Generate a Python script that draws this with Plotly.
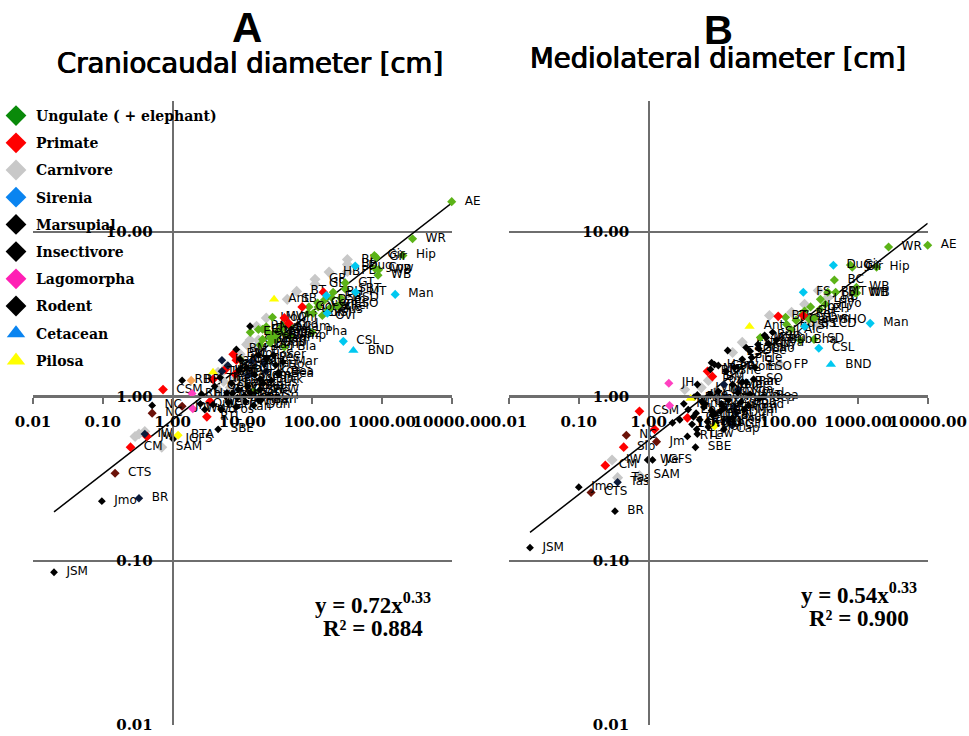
import plotly.graph_objects as go

W, H = 969, 736
# ---------- Panel A: craniocaudal ----------
a_ung_x = [10000, 2750, 2000, 780, 830, 880, 800, 900, 298, 298, 200, 190, 258, 258, 90, 122, 104, 27, 88, 19.5, 23, 28.5, 34.8, 41, 48.5, 38, 25, 29.5, 19.5, 48.5, 100, 40, 9.3, 14.7]
a_ung_y = [15.3, 9.1, 7.2, 7.2, 7.0, 5.45, 6.0, 5.9, 4.9, 4.5, 4.3, 4.0, 3.95, 3.63, 3.5, 3.5, 3.2, 3.03, 3.2, 2.56, 2.48, 2.42, 2.52, 2.38, 2.32, 2.7, 2.28, 2.22, 2.22, 2.63, 2.45, 2.0, 1.68, 1.07]
a_ung_l = ["AE", "WR", "Hip", "Gir", "Gir", "WB", "Cow", "WB", "GT", "SBT", "BH", "EH", "BSD", "ESO", "Oryx", "Ibx", "Elk", "MW", "Hor", "Eq", "Cal", "Tap", "Sai", "Gaz", "Imp", "Kud", "Ram", "Pig", "Dee", "Cam", "Pha", "Bla", "Goa", "She"]
a_ung2_x = [13, 17, 22, 30, 36, 25, 18, 120, 150, 180, 230, 140, 170]
a_ung2_y = [2.45, 2.55, 2.65, 2.35, 2.6, 2.12, 2.05, 3.7, 3.85, 3.45, 3.55, 3.1, 3.35]
a_ung2_l = ["Ele", "Cho", "Nya", "Rup", "Sik", "Bub", "Lam", "Cer", "Dam", "Alc", "Rei", "Ovi", "Sus"]

a_pri_x = [0.73, 0.25, 0.43, 7.4, 8.2, 3.8, 3.45, 3.1, 5.7, 7.9, 40, 72, 145, 46]
a_pri_y = [1.1, 0.49, 0.57, 1.8, 1.66, 1.27, 0.93, 0.75, 1.46, 1.36, 3.0, 3.5, 4.3, 2.78]
a_pri_l = ["CSM", "CM", "Jw", "BM", "Mac", "Tha", "We", "RTL", "Bab", "Ga", "Chi", "Gor", "", ""]

a_car_x = [320, 320, 320, 175, 110, 110, 60, 44, 22, 16, 12.9, 17, 9.3, 5.3, 4.5, 6, 11.5, 15.8, 0.33, 0.4, 0.7, 0.29, 4.5, 5.4, 6.7, 8.1, 10]
a_car_y = [6.8, 6.35, 5.75, 5.7, 5.15, 4.8, 4.35, 3.89, 3.0, 2.67, 2.2, 2.2, 1.8, 1.42, 1.4, 1.52, 2.07, 2.0, 0.59, 0.61, 0.49, 0.57, 1.1, 1.23, 1.13, 1.3, 1.2]
a_car_l = ["BB", "BB", "PB", "HB", "GP", "GB", "BT", "SB", "Lio", "Bon", "GU", "Lyn", "Wol", "Jag", "Leo", "Ca", "CLD", "Bad", "", "", "SAM", "", "Coy", "Fox", "Ott", "Rac", "Cat"]

a_sir_x = [1550, 280, 415, 165, 160, 420]
a_sir_y = [4.17, 2.16, 6.2, 3.2, 4.1, 4.3]
a_sir_l = ["Man", "CSL", "Dug", "SI", "", "MT"]

a_mar_x = [0.33, 0.4, 5.1, 5.1, 6.2, 12, 13.5, 22, 20.5]
a_mar_y = [0.24, 0.59, 1.66, 1.42, 1.54, 1.34, 1.63, 1.42, 1.58]
a_mar_l = ["BR", "IW", "Kan", "Wal", "Pos", "Wom", "Gli", "Koa", "Tas"]

a_ins_x = [0.15, 0.51, 1.37]
a_ins_y = [0.34, 0.79, 0.87]
a_ins_l = ["CTS", "NC", "Jm"]

a_lag_x = [1.9, 1.95]
a_lag_y = [1.04, 0.84]
a_lag_l = ["Rb", "We"]

a_rod_x = [0.02, 0.097, 0.51, 4.5, 12.9, 1.02, 8.2, 33, 33, 2.6, 1.37, 8.7, 18, 2.9, 3.8, 5, 6.3, 8.2, 11, 14.5, 2.5, 18.5, 18, 11.5, 17, 9.3, 7.2, 10.7, 5.8]
a_rod_y = [0.085, 0.23, 0.88, 0.63, 2.67, 0.55, 1.93, 1.4, 1.36, 1.03, 1.25, 1.1, 1.1, 0.83, 0.89, 0.83, 0.92, 0.86, 0.93, 0.88, 0.9, 0.95, 1.27, 1.5, 1.78, 1.68, 1.04, 1.01, 1.0]
a_rod_l = ["JSM", "Jmo", "NC", "SBE", "", "JGFS", "BM", "Bea", "Bea", "Hvr", "RB", "YFBW", "FBW", "Wo", "Wal", "Pos", "Gli", "Kan", "Wom", "Dun", "Qui", "Ban", "Pan", "Mon", "Hoc", "Cap", "Sea", "Mal", "Cal"]
a_rod2_x = [4.8, 7, 9, 12, 15, 20, 26, 4, 6, 8.5, 13, 17, 24, 30, 38, 22, 28]
a_rod2_y = [1.3, 1.2, 1.45, 1.15, 1.35, 1.2, 1.25, 1.15, 1.05, 0.98, 1.05, 0.95, 1.0, 1.55, 1.62, 1.7, 1.78]
a_rod2_l = ["Ibe", "Lem", "Sif", "Oka", "Tam", "Bus", "Dik", "Gen", "Mus", "Zor", "Vis", "Min", "Gri", "Hoc", "Mar", "Pec", "Ser"]

a_cet_x = [390]
a_cet_y = [1.9]
a_cet_l = ["BND"]

a_pil_x = [28.5, 3.8]
a_pil_y = [3.89, 1.4]
a_pil_l = ["Ant", "Th"]

a_oth_x = [1.85, 1.2]
a_oth_y = [1.25, 0.58]
a_oth_l = ["RPi", "BTA"]
a_oth_c = ["#f5a55a", "#ffff00"]

a_fit_x = [0.02, 10000]
a_fit_y = [0.198, 15.0]

# ---------- Panel B: mediolateral ----------
b_ung_x = [10000, 2750, 1850, 780, 830, 460, 950, 910, 960, 480, 370, 210, 40, 95, 92, 172, 285, 290, 340, 150, 235]
b_ung_y = [8.3, 8.1, 6.1, 6.3, 6.1, 5.1, 4.6, 4.27, 4.25, 4.3, 4.3, 3.5, 2.28, 2.74, 3.03, 3.3, 3.38, 3.89, 3.63, 2.19, 2.22]
b_ung_l = ["AE", "WR", "Hip", "Gir", "Gir", "BC", "WB", "WB", "WB", "MT", "PB", "Ibx", "Ma", "Eq", "Tha", "GH", "EH", "Lea", "Hyo", "Bha", "SD"]
b_ung2_x = [130, 200, 110, 160, 240]
b_ung2_y = [2.9, 2.95, 2.55, 3.15, 3.0]
b_ung2_l = ["Cer", "Dam", "Alc", "Rei", "Ovi"]

b_pri_x = [72, 165, 7, 8.2, 0.74, 0.44, 0.24, 3.6, 1.22]
b_pri_y = [3.07, 3.1, 1.42, 1.32, 0.81, 0.49, 0.38, 0.74, 0.63]
b_pri_l = ["BT", "", "BM", "BM", "CSM", "Slo", "CM", "", ""]

b_car_x = [172, 270, 54, 112, 16, 22, 370, 0.3, 0.36, 0.74, 76, 270, 355, 185, 5.7, 7.2, 9.3, 3.3]
b_car_y = [3.63, 4.4, 3.1, 3.25, 1.85, 2.13, 4.0, 0.41, 0.32, 0.33, 1.56, 2.74, 2.9, 2.74, 1.13, 1.25, 1.07, 1.1]
b_car_l = ["", "", "", "", "ES", "Est", "RB", "IW", "Tas", "SAM", "FP", "LCD", "SHO", "BS", "Lyn", "Fox", "Ott", ""]

b_sir_x = [1500, 275, 445, 165, 172]
b_sir_y = [2.78, 1.96, 6.28, 4.3, 2.66]
b_sir_l = ["Man", "CSL", "Dug", "FS", "SI"]

b_mar_x = [0.36, 12, 12.9, 13.7, 15.8, 17, 18, 19.5]
b_mar_y = [0.3, 1.18, 0.99, 0.72, 0.665, 0.86, 0.79, 1.1]
b_mar_l = ["Tas", "Kan", "Wal", "Pos", "Gli", "Wom", "Dun", "Koa"]

b_ins_x = [0.48, 1.3, 0.15]
b_ins_y = [0.58, 0.53, 0.26]
b_ins_l = ["NC", "Jm", "CTS"]

b_lag_x = [1.95, 2]
b_lag_y = [1.2, 0.88]
b_lag_l = ["JH", ""]

b_rod_x = [0.02, 0.1, 0.33, 1.14, 0.97, 4.7, 3.6, 5, 8, 13.6, 5, 2.8, 4.9, 2.2, 44, 39, 16, 8.8, 32, 33.5, 4.5, 5.8, 7.7, 10, 10.7, 22, 23.5, 25, 28.5, 3.7, 4.8, 6.2, 8.2, 4.2, 5.4, 7.2, 9.3, 12, 7.7, 10, 12.9, 17, 22, 28.5, 37, 48.5]
b_rod_y = [0.12, 0.28, 0.2, 0.41, 0.41, 0.49, 0.57, 0.59, 1.6, 1.9, 1.18, 0.72, 0.63, 0.69, 1.0, 0.97, 1.18, 1.56, 1.27, 1.5, 0.99, 0.93, 1.01, 1.07, 0.81, 1.22, 0.83, 1.22, 1.03, 0.83, 0.79, 0.86, 0.77, 0.675, 0.72, 0.65, 0.69, 0.63, 1.46, 1.54, 1.42, 1.5, 1.68, 1.88, 2.07, 2.28]
b_rod_l = ["JSM", "Jmo", "BR", "JGFS", "We", "SBE", "RTL", "Law", "", "", "", "", "", "", "Bea", "Bea", "Mac", "Ham", "SO", "ESO", "Po", "Ca", "Gu", "Wo", "Cal", "Ban", "Mal", "Rac", "Wal", "Eb", "Lem", "Tam", "Oka", "Sif", "Pan", "Mon", "Hoc", "Cap", "Mar", "Goa", "She", "Wom", "Pig", "Dee", "Tap", "Cam"]
b_rod2_x = [5, 6.5, 8, 11, 14, 19, 3.2, 4.4, 7, 9, 12, 16, 21, 27, 30, 38, 52, 46, 60, 68, 25]
b_rod2_y = [1.02, 0.9, 0.82, 0.9, 0.95, 1.05, 0.9, 0.75, 0.7, 0.78, 0.85, 0.74, 0.92, 0.88, 1.72, 1.95, 2.1, 2.35, 2.45, 2.2, 1.98]
b_rod2_l = ["Ibe", "Dik", "Gen", "Mus", "Zor", "Vis", "Min", "Gri", "Bus", "Pec", "Ser", "Nut", "Bob", "Bad", "Ele", "Cho", "Nya", "Rup", "Sik", "Bub", "Lam"]

b_cet_x = [410]
b_cet_y = [1.56]
b_cet_l = ["BND"]

b_pil_x = [28, 4]
b_pil_y = [2.66, 0.97]
b_pil_l = ["Ant", "Po"]

b_oth_x = [8.8]
b_oth_y = [0.66]
b_oth_l = [""]
b_oth_c = ["#ffff00"]

b_fit_x = [0.02, 10000]
b_fit_y = [0.1485, 11.3]

# ---------- Ticks and legend ----------
x_tick_vals = [0.01, 0.1, 1, 10, 100, 1000, 10000]
x_tick_text = ["0.01", "0.10", "1.00", "10.00", "100.00", "1000.00", "10000.00"]
y_tick_vals = [0.01, 0.1, 1, 10]
y_tick_text = ["0.01", "0.10", "1.00", "10.00"]

legend_names = ["Ungulate ( + elephant)", "Primate", "Carnivore", "Sirenia", "Marsupial", "Insectivore", "Lagomorpha", "Rodent", "Cetacean", "Pilosa"]
legend_colors = ["#0a8a0a", "#ff0000", "#c8c8c8", "#0a84f0", "#000000", "#000000", "#ff1fb4", "#000000", "#0a84f0", "#ffff00"]
legend_symbols = ["diamond"] * 8 + ["triangle-up"] * 2

LABEL_FONT = dict(family="DejaVu Sans", size=12, color="black")
SERIF = "DejaVu Serif"
AXIS_GRAY = "#6e6e6e"

fig = go.Figure()


def add_series(xa, ya, x, y, labels, color, symbol="diamond", size=7):
    fig.add_trace(go.Scatter(
        x=x, y=y, text=["\u00a0\u00a0" + t if t else None for t in labels],
        xaxis=xa, yaxis=ya, mode="markers+text", textposition="middle right",
        textfont=LABEL_FONT, cliponaxis=False, showlegend=False, hoverinfo="skip",
        marker=dict(symbol=symbol, size=size, color=color),
    ))


panels = [
    ("x", "y", a_fit_x, a_fit_y, [
        (a_car_x, a_car_y, a_car_l, "#c8c8c8", "diamond", 8.5),
        (a_ung_x, a_ung_y, a_ung_l, "#5cb318", "diamond", 7),
        (a_ung2_x, a_ung2_y, a_ung2_l, "#5cb318", "diamond", 7),
        (a_pri_x, a_pri_y, a_pri_l, "#ff0000", "diamond", 7.5),
        (a_sir_x, a_sir_y, a_sir_l, "#00c8f0", "diamond", 7),
        (a_lag_x, a_lag_y, a_lag_l, "#ff40c0", "diamond", 7),
        (a_ins_x, a_ins_y, a_ins_l, "#6b1208", "diamond", 7),
        (a_mar_x, a_mar_y, a_mar_l, "#0b1a3a", "diamond", 6.5),
        (a_rod_x, a_rod_y, a_rod_l, "#000000", "diamond", 6),
        (a_rod2_x, a_rod2_y, a_rod2_l, "#000000", "diamond", 6),
        (a_cet_x, a_cet_y, a_cet_l, "#00c8f0", "triangle-up", 9),
        (a_pil_x, a_pil_y, a_pil_l, "#ffff00", "triangle-up", 9),
        (a_oth_x, a_oth_y, a_oth_l, a_oth_c, "diamond", 7),
    ]),
    ("x2", "y2", b_fit_x, b_fit_y, [
        (b_car_x, b_car_y, b_car_l, "#c8c8c8", "diamond", 8.5),
        (b_ung_x, b_ung_y, b_ung_l, "#5cb318", "diamond", 7),
        (b_ung2_x, b_ung2_y, b_ung2_l, "#5cb318", "diamond", 7),
        (b_pri_x, b_pri_y, b_pri_l, "#ff0000", "diamond", 7.5),
        (b_sir_x, b_sir_y, b_sir_l, "#00c8f0", "diamond", 7),
        (b_lag_x, b_lag_y, b_lag_l, "#ff40c0", "diamond", 7),
        (b_ins_x, b_ins_y, b_ins_l, "#6b1208", "diamond", 7),
        (b_mar_x, b_mar_y, b_mar_l, "#0b1a3a", "diamond", 6.5),
        (b_rod_x, b_rod_y, b_rod_l, "#000000", "diamond", 6),
        (b_rod2_x, b_rod2_y, b_rod2_l, "#000000", "diamond", 6),
        (b_cet_x, b_cet_y, b_cet_l, "#00c8f0", "triangle-up", 9),
        (b_pil_x, b_pil_y, b_pil_l, "#ffff00", "triangle-up", 9),
        (b_oth_x, b_oth_y, b_oth_l, b_oth_c, "diamond", 7),
    ]),
]
for xa, ya, fx, fy, series in panels:
    fig.add_trace(go.Scatter(x=fx, y=fy, xaxis=xa, yaxis=ya, mode="lines", showlegend=False,
                             hoverinfo="skip", line=dict(color="black", width=1.5)))
    for s in series:
        add_series(xa, ya, *s)

# Legend entries use their own (darker) key colours, as in the picture.
for name, col, sym in zip(legend_names, legend_colors, legend_symbols):
    fig.add_trace(go.Scatter(x=[None], y=[None], name=name, legendgroup=name, mode="markers",
                             marker=dict(symbol=sym, size=16, color=col)))


def x_axis(l, r):
    return dict(type="log", range=[-2, 4], domain=[l / W, r / W], anchor="free", position=1 - 397 / H,
                automargin=False, showgrid=False, zeroline=False, showline=True, linecolor=AXIS_GRAY, linewidth=1.5,
                ticks="outside", ticklen=6, tickcolor=AXIS_GRAY, tickwidth=1.5,
                tickmode="array", tickvals=x_tick_vals, ticktext=x_tick_text,
                tickfont=dict(family=SERIF, size=15, color="black", weight="bold"), tickangle=0,
                ticklabelstandoff=5)


def y_axis(px):
    return dict(type="log", range=[-2, 1.797], domain=[1 - 725 / H, 1 - 101 / H], anchor="free", position=px / W,
                automargin=False, showgrid=True, gridcolor=AXIS_GRAY, gridwidth=1.5, zeroline=False,
                showline=True, linecolor=AXIS_GRAY, linewidth=1.5, ticks="",
                tickmode="array", tickvals=y_tick_vals, ticktext=y_tick_text,
                tickfont=dict(family=SERIF, size=15, color="black", weight="bold"),
                ticklabelstandoff=16)


def note(x, y, text, size, family="DejaVu Sans", bold=False, shadow=None):
    font = dict(family=family, size=size, color="black", weight="bold" if bold else "normal")
    if shadow:
        font["shadow"] = shadow
    return dict(xref="paper", yref="paper", x=x / W, y=1 - y / H, text=text, showarrow=False,
                xanchor="center", yanchor="middle", font=font)


THICK = "0.5px 0 0 black, -0.5px 0 0 black"
fig.update_layout(
    width=W, height=H, margin=dict(l=0, r=0, t=0, b=0), autosize=False,
    paper_bgcolor="white", plot_bgcolor="white",
    xaxis=x_axis(33, 451.7), yaxis=y_axis(172.5),
    xaxis2=x_axis(509, 927.7), yaxis2=y_axis(649),
    legend=dict(x=0, y=1 - 100 / H, xanchor="left", yanchor="top", indentation=-4,
                bgcolor="rgba(0,0,0,0)", itemsizing="trace", tracegroupgap=6, itemclick=False, itemdoubleclick=False,
                font=dict(family=SERIF, size=14, color="black", weight="bold")),
    annotations=[
        note(247, 27, "A", 42, "Liberation Sans", True),
        note(250, 63, "Craniocaudal diameter [cm]", 27.5, "DejaVu Sans", False, THICK),
        note(718, 30, "B", 40, "Liberation Sans", True),
        note(718, 58, "Mediolateral diameter [cm]", 27.5, "DejaVu Sans", False, THICK),
        note(373, 603, "y = 0.72x<sup>0.33</sup>", 23, "Liberation Serif", True),
        note(373, 628, "R² = 0.884", 23, "Liberation Serif", True),
        note(859, 593, "y = 0.54x<sup>0.33</sup>", 23, "Liberation Serif", True),
        note(859, 618, "R² = 0.900", 23, "Liberation Serif", True),
    ],
)

fig.write_html("out.html", config=dict(displayModeBar=False),
               post_script="document.body.style.margin='0';document.body.style.overflow='hidden';")
